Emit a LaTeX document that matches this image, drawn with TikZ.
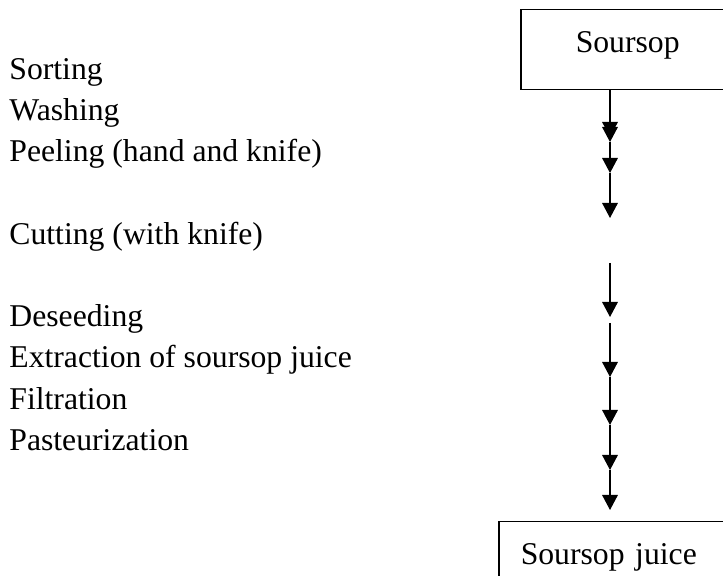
\documentclass[tikz,border=0pt]{standalone}
\usepackage{fontspec}
\setmainfont{Liberation Serif}
\usetikzlibrary{arrows.meta}

\tikzset{
  steptext/.style={anchor=base west, inner sep=0pt},
  stepbox/.style={draw, line width=0.75pt, anchor=north west, align=left,
    text height=11.1pt, text depth=8.1pt, inner ysep=10.4pt},
  flow/.style={line width=0.65pt, -{Triangle[length=7.5pt,width=7.8pt]}}
}

\begin{document}
\begin{tikzpicture}[x=0.5pt,y=-0.5pt,font=\fontsize{15.85}{19}\selectfont]
      \useasboundingbox (0,0) rectangle (723,576);
      \clip (0,0) rectangle (723,576);

      %%%%  Boxes
      \node[stepbox, inner xsep=27.5pt, text width=110pt] (soursop) at (520,9) {Soursop};
      \node[stepbox, inner xsep=11pt, text width=120pt] (juice) at (498,521) {Soursop juice};

      %%%%  Steps
      \node[steptext] (sorting)    at (9,80)  {Sorting};
      \node[steptext] (washing)    at (9,121) {Washing};
      \node[steptext] (peeling)    at (9,162) {Peeling (hand and knife)};
      \node[steptext] (cutting)    at (9,245) {Cutting (with knife)};
      \node[steptext] (deseeding)  at (9,327) {Deseeding};
      \node[steptext] (extraction) at (9,368) {Extraction of soursop juice};
      \node[steptext] (filtration) at (9,410) {Filtration};
      \node[steptext] (pasteur)    at (9,451) {Pasteurization};

      %%%%  Arrows
      \coordinate (s0) at (soursop.south west -| 610,0);
      \foreach \i/\y in {1/120,2/137,3/142,4/173,5/218,6/263,7/317,8/323,9/377,10/425,11/470,12/510}
        \coordinate (s\i) at (610,\y);

      \foreach \a/\b in {0/2,1/3,3/4,4/5,6/7,8/9,9/10,10/11,11/12}
        \draw[flow] (s\a) -- (s\b);
    \end{tikzpicture}
\end{document}
